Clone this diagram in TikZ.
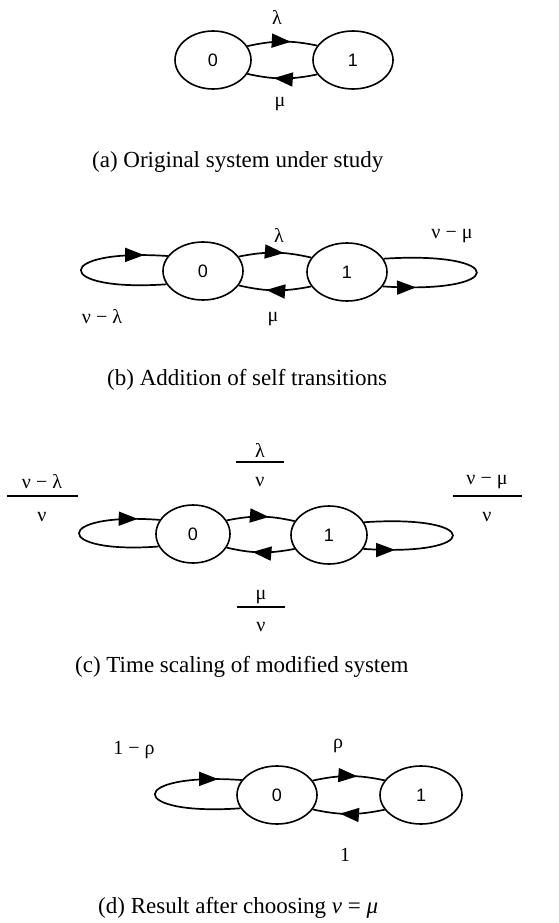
\documentclass[tikz,border=0pt]{standalone}
\usepackage{fontspec}
\setmainfont{Liberation Serif}
\newfontfamily\digfont{Liberation Sans}
\usetikzlibrary{arrows.meta,decorations.markings,shapes.geometric}
\begin{document}
\begin{tikzpicture}[x=1pt,y=-1pt,
  state/.style={ellipse,draw,line width=1.6pt,minimum width=80pt,minimum height=58pt,inner sep=0pt,font=\digfont\fontsize{18}{18}\selectfont},
  edge/.style={line width=1.7pt},
  midarr/.style={postaction={decorate},decoration={markings,mark=at position #1 with {\arrow{Triangle[length=19pt,width=14pt]}}}},
  lbl/.style={font=\fontsize{20}{20}\selectfont,inner sep=0pt},
  captext/.style={font=\fontsize{23}{26}\selectfont,anchor=west,inner sep=0pt},
  fbar/.style={line width=1.5pt}]
\fill[white] (0,0) rectangle (559,923);
\useasboundingbox (0,0) rectangle (559,923);

% ---------- (a)
\node[state,minimum width=76pt] (A0) at (213,60) {0};
\node[state] (A1) at (353,60) {1};
\draw[edge,midarr=0.62] (A0.22) to[bend left=12] (A1.158);
\draw[edge,midarr=0.62] (A1.202) to[bend left=12] (A0.338);
\node[lbl] (la) at (277,17) {λ};
\node[lbl] (ma) at (280,104) {μ};
\node[captext] (capa) at (92,162) {(a) Original system under study};

% ---------- (b)
\node[state] (B0) at (203,271) {0};
\node[state] (B1) at (347,272) {1};
\draw[edge,midarr=0.62] (B0.22) to[bend left=12] (B1.158);
\draw[edge,midarr=0.62] (B1.202) to[bend left=12] (B0.338);
\draw[edge,midarr=0.87] (B0.200) .. controls +(-115,8) and +(-115,-8) .. (B0.157);
\draw[edge,midarr=0.17] (B1.338) .. controls +(125,8) and +(125,-8) .. (B1.20);
\node[lbl] (lb) at (279,235) {λ};
\node[lbl] (nmb) at (452,236) {ν − μ};
\node[lbl] (nlb) at (102,317) {ν − λ};
\node[lbl] (mb) at (273,319) {μ};
\node[captext] (capb) at (107,380) {(b) Addition of self transitions};

% ---------- (c)
\node[state,minimum width=74pt] (C0) at (193,534) {0};
\node[state,minimum width=76pt] (C1) at (329,535) {1};
\draw[edge,midarr=0.62] (C0.22) to[bend left=12] (C1.158);
\draw[edge,midarr=0.62] (C1.202) to[bend left=12] (C0.338);
\draw[edge,midarr=0.87] (C0.200) .. controls +(-107,8) and +(-107,-8) .. (C0.157);
\draw[edge,midarr=0.17] (C1.338) .. controls +(119,8) and +(119,-8) .. (C1.20);
% fractions
\node[lbl] (fcn) at (260,450) {λ};
\draw[fbar] (236,462) -- (284,462);
\node[lbl] (fcd) at (260,482) {ν};
\node[lbl] (fln) at (42,482) {ν − λ};
\draw[fbar] (7,496) -- (78,496);
\node[lbl] (fld) at (42,517) {ν};
\node[lbl] (frn) at (487,482) {ν − μ};
\draw[fbar] (453,496) -- (522,496);
\node[lbl] (frd) at (487,517) {ν};
\node[lbl] (fbn) at (261,597) {μ};
\draw[fbar] (237,607) -- (285,607);
\node[lbl] (fbd) at (261,627) {ν};
\node[captext] (capc) at (75,667) {(c) Time scaling of modified system};

% ---------- (d)
\node[state] (D0) at (277,795) {0};
\node[state,minimum width=82pt] (D1) at (421,795) {1};
\draw[edge,midarr=0.62] (D0.22) to[bend left=12] (D1.158);
\draw[edge,midarr=0.62] (D1.202) to[bend left=12] (D0.338);
\draw[edge,midarr=0.87] (D0.200) .. controls +(-115,8) and +(-115,-8) .. (D0.157);
\node[lbl] (omr) at (134,750) {1 − ρ};
\node[lbl] (rd) at (338,746) {ρ};
\node[lbl] (od) at (345,855) {1};
\node[captext] (capd) at (98,908) {(d) Result after choosing {\itshape ν} = {\itshape μ}};
\end{tikzpicture}
\end{document}
